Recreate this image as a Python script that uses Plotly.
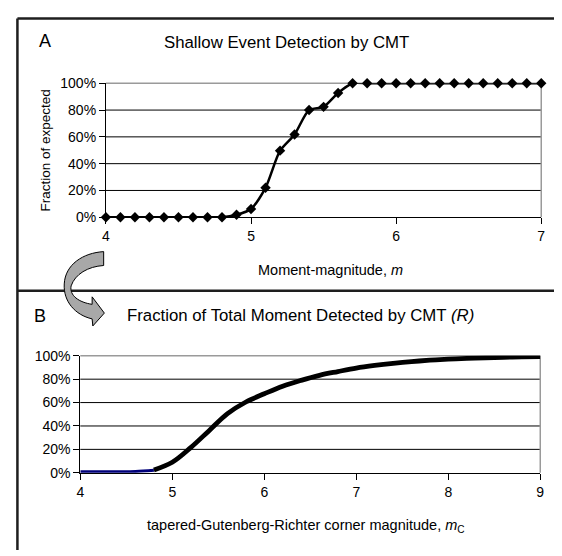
import plotly.graph_objects as go

# ---------------- data ----------------
# Panel A: Shallow event detection by CMT
mag_a = [4.0, 4.1, 4.2, 4.3, 4.4, 4.5, 4.6, 4.7, 4.8, 4.9, 5.0, 5.1, 5.2, 5.3, 5.4, 5.5,
         5.6, 5.7, 5.8, 5.9, 6.0, 6.1, 6.2, 6.3, 6.4, 6.5, 6.6, 6.7, 6.8, 6.9, 7.0]
frac_a = [0.0, 0.0, 0.0, 0.0, 0.0, 0.0, 0.0, 0.0, 0.0, 0.019, 0.062, 0.22, 0.497, 0.618,
          0.80, 0.824, 0.928, 1.0, 1.0, 1.0, 1.0, 1.0, 1.0, 1.0, 1.0, 1.0, 1.0, 1.0, 1.0, 1.0, 1.0]

# Panel B: fraction of total moment detected (R)
mc_low = [4.0, 4.2, 4.4, 4.6, 4.8]
r_low = [0.008, 0.008, 0.009, 0.011, 0.022]
mc_b = [4.8, 5.0, 5.2, 5.4, 5.6, 5.8, 6.0, 6.2, 6.4, 6.6, 6.8, 7.0, 7.2, 7.4, 7.6, 7.8,
        8.0, 8.2, 8.4, 8.6, 8.8, 9.0]
r_b = [0.024, 0.09, 0.215, 0.36, 0.505, 0.605, 0.675, 0.74, 0.79, 0.833, 0.865, 0.895,
       0.917, 0.935, 0.95, 0.962, 0.971, 0.978, 0.983, 0.987, 0.99, 0.992]

xticks_a = [4, 5, 6, 7]
xticks_b = [4, 5, 6, 7, 8, 9]
yticks = [0, 0.2, 0.4, 0.6, 0.8, 1.0]
ytick_text = ["0%", "20%", "40%", "60%", "80%", "100%"]

# page offset (body margin) and figure size
OX, OY = 8, 8
W, H = 554, 548
FONT = "Liberation Sans, Arial, sans-serif"


def px(x, y):
    return (x - OX) / W, 1 - (y - OY) / H


fig = go.Figure()

fig.add_trace(go.Scatter(
    x=mag_a, y=frac_a, mode="lines+markers", xaxis="x", yaxis="y",
    line=dict(color="black", width=2.5, shape="spline", smoothing=0.7),
    marker=dict(symbol="diamond", size=8, color="black"),
    cliponaxis=False, showlegend=False))

fig.add_trace(go.Scatter(
    x=mc_low, y=r_low, mode="lines", xaxis="x2", yaxis="y2",
    line=dict(color="#00007a", width=3, shape="spline"),
    cliponaxis=False, showlegend=False))

fig.add_trace(go.Scatter(
    x=mc_b, y=r_b, mode="lines", xaxis="x2", yaxis="y2",
    line=dict(color="black", width=4.8, shape="spline", smoothing=1.0),
    cliponaxis=False, showlegend=False))

# domains from pixel positions
ax_a = (px(103.3, 0)[0], px(545, 0)[0])
ay_a = (px(0, 215.3)[1], px(0, 77.3)[1])
ax_b = (px(77.3, 0)[0], px(544, 0)[0])
ay_b = (px(0, 478.5)[1], px(0, 358)[1])

common_x = dict(showgrid=False, zeroline=False, showline=True, linecolor="black",
                linewidth=1, ticks="outside", ticklen=6, tickcolor="black",
                tickfont=dict(size=14, color="black", family=FONT))
common_y = dict(showgrid=False, zeroline=False,
                showline=True, linecolor="black", linewidth=1, ticks="outside",
                ticklen=6, tickcolor="black", tickvals=yticks, ticktext=ytick_text,
                range=[0, 1], tickfont=dict(size=14, color="black", family=FONT))

fig.update_layout(
    width=W, height=H, margin=dict(l=0, r=0, t=0, b=0),
    paper_bgcolor="white", plot_bgcolor="white",
    font=dict(family=FONT, color="black"),
    xaxis=dict(domain=list(ax_a), range=[4, 7], tickvals=xticks_a, anchor="y", **common_x),
    yaxis=dict(domain=list(ay_a), anchor="x", **common_y),
    xaxis2=dict(domain=list(ax_b), range=[4, 9], tickvals=xticks_b, anchor="y2", **common_x),
    yaxis2=dict(domain=list(ay_b), anchor="x2", **common_y),
)

shapes = []
for xr, yr in (("x", "y"), ("x2", "y2")):
    # black gridlines at the inner ticks
    for v in yticks[1:-1]:
        shapes.append(dict(type="line", xref=f"{xr} domain", yref=yr,
                           x0=0, x1=1, y0=v, y1=v, line=dict(color="black", width=1),
                           layer="below"))
    # gray plot-area border (top and right)
    shapes.append(dict(type="line", xref=f"{xr} domain", yref=f"{yr} domain",
                       x0=0, x1=1, y0=1, y1=1, line=dict(color="#9a9a9a", width=1.5),
                       layer="below"))
    shapes.append(dict(type="line", xref=f"{xr} domain", yref=f"{yr} domain",
                       x0=1, x1=1, y0=0, y1=1, line=dict(color="#9a9a9a", width=1.5),
                       layer="below"))

# outer frame lines
frame_col = "#1e1e1e"
x0, y0 = px(13.5, 10.5)
x1, _ = px(OX + W + 2, 10.5)
shapes.append(dict(type="line", xref="paper", yref="paper", x0=x0, x1=x1, y0=y0, y1=y0,
                   line=dict(color=frame_col, width=2.5)))
_, yb = px(13.5, OY + H + 2)
shapes.append(dict(type="line", xref="paper", yref="paper", x0=x0, x1=x0, y0=y0, y1=yb,
                   line=dict(color=frame_col, width=2.5)))
_, ys = px(13.5, 291)
shapes.append(dict(type="line", xref="paper", yref="paper", x0=x0, x1=x1, y0=ys, y1=ys,
                   line=dict(color=frame_col, width=2.5)))


# curved arrow (pixel path converted to paper coordinates)
def P(x, y):
    a, b = px(x, y)
    return f"{a:.5f},{b:.5f}"


path = (f"M {P(101,250.7)} L {P(101,265)} "
        f"C {P(85,266)} {P(72,274)} {P(68,286)} "
        f"C {P(66,296)} {P(76,303)} {P(89.3,305)} "
        f"L {P(89.3,297.3)} L {P(101.7,314)} L {P(90,327.3)} L {P(89.3,320)} "
        f"C {P(72,316)} {P(60,302)} {P(61,284)} "
        f"C {P(62,264)} {P(80,252)} {P(101,250.7)} Z")
shapes.append(dict(type="path", xref="paper", yref="paper", path=path,
                   fillcolor="#a8a8a8", line=dict(color="black", width=1)))

fig.update_layout(shapes=shapes)


def ann(x, y, text, size, angle=0):
    a, b = px(x, y)
    return dict(x=a, y=b, xref="paper", yref="paper", text=text, showarrow=False,
                xanchor="center", yanchor="middle", textangle=angle,
                font=dict(size=size, color="black", family=FONT))


fig.update_layout(annotations=[
    ann(41, 33.5, "A", 18),
    ann(286.5, 35, "Shallow Event Detection by CMT", 16.8),
    ann(41.7, 146.3, "Fraction of expected", 13.5, -90),
    ann(331.5, 270, "Moment-magnitude, <i>m</i>", 14.5),
    ann(36.7, 317, "B", 18),
    ann(301, 317, "Fraction of Total Moment Detected by CMT <i>(R)</i>", 16.8),
    ann(306.5, 533, "tapered-Gutenberg-Richter corner magnitude, <i>m</i><sub>C</sub>", 14.5),
])

fig.write_html("out.html")
